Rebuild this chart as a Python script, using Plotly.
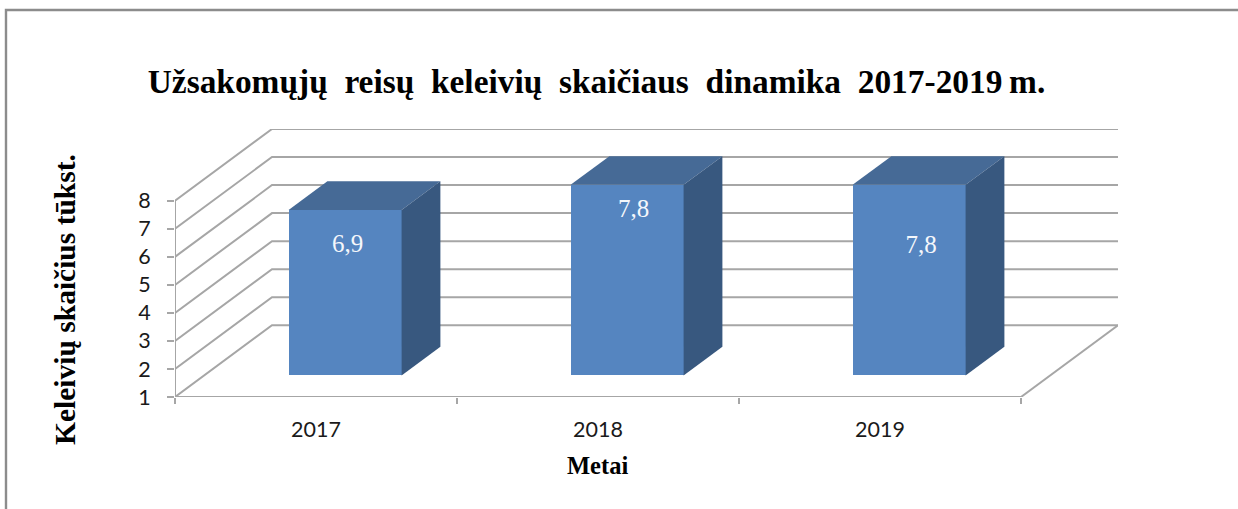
import plotly.graph_objects as go

years = [2017, 2018, 2019]
values = [6.9, 7.8, 7.8]
y_ticks = [1, 2, 3, 4, 5, 6, 7, 8]
title = "Užsakomųjų\u00a0 reisų\u00a0 keleivių\u00a0 skaičiaus\u00a0 dinamika\u00a0 2017-2019\u2009m."
y_title = "Keleivių skaičius tūkst."
x_title = "Metai"
label_drop = [1.29, 0.94, 2.21]
label_shift = [0.009, 0.023, 0.043]

W, H = 1238, 509
L, R, T, B = 175, 1118, 129, 397
DX = 97 / 282
DY = 71.7 / 28
D0, D1 = 0.3, 0.7
BW = 113 / 282
X0, X1 = years[0] - 0.5, years[-1] + 0.5
Y0, Y1 = y_ticks[0], y_ticks[-1]

FRONT, TOP, SIDE = "#5585c0", "#466a96", "#38587f"
GRID = "#a6a6a6"

def px(x, d=0):
    return x + d * DX

def py(v, d=0):
    return v + d * DY

fig = go.Figure()

# front faces
fig.add_trace(go.Bar(
    x=[px(y, D0) for y in years],
    y=[v - Y0 for v in values],
    base=py(Y0, D0),
    width=BW,
    marker=dict(color=FRONT, line=dict(width=0)),
    hoverinfo="skip",
))

# top and side faces
for yr, v in zip(years, values):
    l, r = yr - BW / 2, yr + BW / 2
    fig.add_trace(go.Scatter(
        x=[px(l, D0), px(r, D0), px(r, D1), px(l, D1), px(l, D0)],
        y=[py(v, D0), py(v, D0), py(v, D1), py(v, D1), py(v, D0)],
        mode="lines", fill="toself", fillcolor=TOP, line=dict(width=0), hoverinfo="skip",
    ))
    fig.add_trace(go.Scatter(
        x=[px(r, D0), px(r, D1), px(r, D1), px(r, D0), px(r, D0)],
        y=[py(Y0, D0), py(Y0, D1), py(v, D1), py(v, D0), py(Y0, D0)],
        mode="lines", fill="toself", fillcolor=SIDE, line=dict(width=0), hoverinfo="skip",
    ))

# value labels
fig.add_trace(go.Scatter(
    x=[px(y, D0) + s for y, s in zip(years, label_shift)],
    y=[py(v, D0) - d for v, d in zip(values, label_drop)],
    mode="text",
    text=[str(v).replace(".", ",") for v in values],
    textfont=dict(family="Liberation Serif", size=25, color="#f4f7fb"),
    textposition="middle center",
    hoverinfo="skip",
))

# 3D wall and floor lines
def seg(xs, ys):
    return dict(
        type="path", layer="below", xref="x", yref="y",
        path="M " + " L ".join(f"{a},{b}" for a, b in zip(xs, ys)),
        line=dict(color=GRID, width=2),
    )

shapes = []
for v in y_ticks:
    shapes.append(seg([px(X0), px(X0, 1), px(X1, 1)], [py(v), py(v, 1), py(v, 1)]))
shapes.append(seg([X1, px(X1, 1)], [py(Y0), py(Y0, 1)]))
shapes.append(seg([X0, X1], [Y0, Y0]))
shapes.append(seg([X0, X0], [Y0, Y1]))

# outer frame, open at right and bottom
pw, ph = R - L, B - T
shapes.append(dict(
    type="path", xref="paper", yref="paper", layer="below",
    path=f"M {(6 - L) / pw},{(B - H) / ph} L {(6 - L) / pw},{(B - 10) / ph} L {(W - L) / pw},{(B - 10) / ph}",
    line=dict(color="#8c8c8c", width=2.4),
))

axis_font = dict(family="Lato", size=21.5, color="#1a1a1a")

# axis titles sit off-centre from the plot domain, so they are placed as annotations
annotations = [
    dict(text=y_title, textangle=-90, showarrow=False,
         xref="paper", yref="paper", xanchor="center", yanchor="middle",
         x=(65 - L) / pw, y=(B - 300) / ph,
         font=dict(family="Liberation Serif", size=29.5, color="#000000", weight="bold")),
    dict(text=x_title, showarrow=False,
         xref="paper", yref="paper", xanchor="center", yanchor="middle",
         x=(597 - L) / pw, y=(B - 465) / ph,
         font=dict(family="Liberation Serif", size=24.5, color="#000000", weight="bold")),
]

fig.update_layout(
    width=W, height=H,
    margin=dict(l=L, r=W - R, t=T, b=H - B, pad=0),
    paper_bgcolor="white", plot_bgcolor="white",
    showlegend=False,
    bargap=0,
    shapes=shapes,
    annotations=annotations,
    title=dict(
        text=title,
        x=596.5 / W, xanchor="center",
        y=1 - 81 / H, yanchor="middle",
        font=dict(family="Liberation Serif", size=33.4, color="#000000", weight="bold"),
    ),
    xaxis=dict(
        range=[X0, px(X1, 1)],
        tickmode="array", tickvals=years, ticktext=[str(y) for y in years],
        ticks="outside", ticklen=13, tickcolor="rgba(0,0,0,0)",
        minor=dict(
            tickmode="array",
            tickvals=[X0 + i for i in range(len(years) + 1)],
            ticks="outside", ticklen=6, tickcolor=GRID, tickwidth=2,
        ),
        tickfont=axis_font,
        showgrid=False, zeroline=False, showline=False,
    ),
    yaxis=dict(
        range=[Y0, py(Y1, 1)],
        tickmode="array", tickvals=y_ticks,
        ticks="outside", ticklen=7, tickcolor=GRID, tickwidth=2,
        ticklabelstandoff=12,
        tickfont=axis_font,
        showgrid=False, zeroline=False, showline=False,
    ),
)

fig.write_html("out.html", config=dict(displayModeBar=False),
               post_script="document.body.style.margin='0';document.documentElement.style.overflow='hidden';")
